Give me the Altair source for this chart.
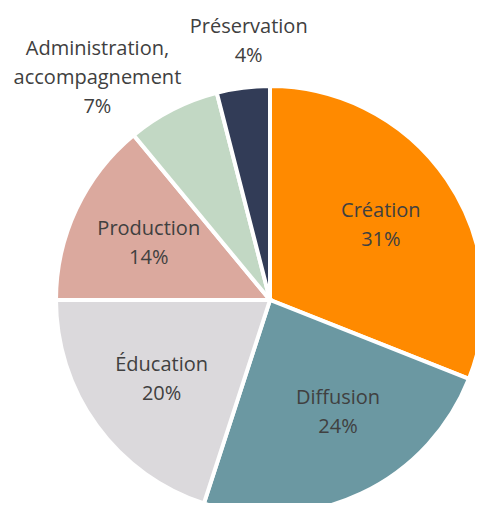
import altair as alt
import pandas as pd

categories = ["Création", "Diffusion", "Éducation", "Production",
              "Administration,\naccompagnement", "Préservation"]
values = [31, 24, 20, 14, 7, 4]
colors = ["#FF8A00", "#6B98A2", "#DBD9DC", "#DBA99E", "#C2D8C4", "#323C57"]

df = pd.DataFrame({
    "cat": categories,
    "val": values,
    "idx": list(range(len(values))),
})
df["label"] = [f"{c}\n{v}%" for c, v in zip(categories, values)]

CX, CY = 262, 292
R = 214

base = alt.Chart(df).encode(
    theta=alt.Theta("val:Q", stack=True),
    order=alt.Order("idx:Q"),
    x=alt.value(CX),
    y=alt.value(CY),
)

arcs = base.mark_arc(outerRadius=R, stroke="white", strokeWidth=4).encode(
    color=alt.Color("cat:N", scale=alt.Scale(domain=categories, range=colors), legend=None)
)

text_style = dict(font="Open Sans", fontSize=20, color="#404040", lineBreak="\n",
                  lineHeight=29, align="center", baseline="middle")


def label_layer(i, radius, dx, dy):
    return base.mark_text(radius=radius, dx=dx, dy=dy, **text_style).encode(
        text=alt.condition(alt.datum.idx == i, alt.Text("label:N"), alt.value(""))
    )


inside = base.mark_text(radius=134, dy=-14, **text_style).encode(
    text=alt.condition((alt.datum.idx == 0) | (alt.datum.idx == 2) | (alt.datum.idx == 3),
                       alt.Text("label:N"), alt.value(""))
)
diff = label_layer(1, 134, 11, -23)
admin = label_layer(4, 270, -50, -10)
pres = label_layer(5, 258, 11, -17)

chart = alt.layer(arcs, inside, diff, admin, pres).properties(
    width=467, height=495, padding=0, autosize=alt.AutoSizeParams(type="none")
).configure_view(stroke=None)

chart.save("out.html", embed_options={"renderer": "svg", "actions": False})
